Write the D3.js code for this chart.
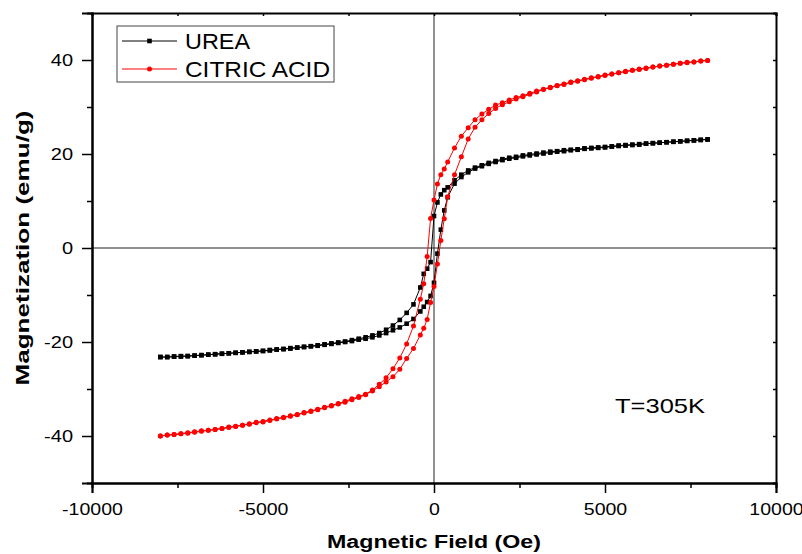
<!DOCTYPE html>
<html>
<head>
<meta charset="utf-8">
<script src="https://cdn.jsdelivr.net/npm/d3@7"></script>
<style>
  body { margin: 0; background: #fff; }
  svg { display: block; font-family: "Liberation Sans", Arial, sans-serif; }
</style>
</head>
<body>
<div id="chart"></div>
<script>
// applied field (Oe), sweep from +8000 down to -8000; the return sweep uses the same points
const fieldOe = [
  8000, 7800, 7600, 7400, 7200, 7000, 6800, 6600, 6400, 6200, 6000, 5800, 5600, 5400, 5200,
  5000, 4800, 4600, 4400, 4200, 4000, 3800, 3600, 3400, 3200, 3000, 2800, 2600, 2400, 2200,
  2000, 1800, 1600, 1400, 1200, 1000, 800, 600, 400, 300, 200, 100, 0, -100, -200,
  -300, -400, -600, -800, -1000, -1200, -1400, -1600, -1800, -2000,
  -2200, -2400, -2600, -2800, -3000, -3200, -3400, -3600, -3800, -4000, -4200, -4400, -4600, -4800, -5000,
  -5200, -5400, -5600, -5800, -6000, -6200, -6400, -6600, -6800, -7000, -7200, -7400, -7600, -7800, -8000
];

// magnetization (emu/g), aligned with fieldOe. "Down" = descending sweep, "Up" = ascending sweep
const ureaDown = [
  23.1, 23.0, 22.9, 22.8, 22.7, 22.6, 22.5, 22.4, 22.3, 22.2, 22.1, 22.0, 21.9, 21.8, 21.6,
  21.5, 21.4, 21.3, 21.2, 21.0, 20.9, 20.8, 20.6, 20.5, 20.3, 20.1, 19.9, 19.7, 19.4, 19.2,
  18.9, 18.5, 18.1, 17.6, 17.1, 16.5, 15.6, 14.4, 12.9, 12.3, 11.4, 9.7, 6.8, -3.0, -4.4,
  -5.5, -8.4, -12.0, -13.8, -15.3, -16.5, -17.4, -18.1, -18.6, -19.0,
  -19.3, -19.6, -19.9, -20.1, -20.3, -20.5, -20.7, -20.9, -21.0, -21.2, -21.3, -21.5, -21.6, -21.7, -21.9,
  -22.0, -22.1, -22.2, -22.3, -22.4, -22.5, -22.6, -22.7, -22.8, -22.9, -23.0, -23.0, -23.1, -23.2, -23.2
];
const ureaUp = [
  23.1, 23.0, 22.9, 22.8, 22.7, 22.6, 22.5, 22.4, 22.3, 22.2, 22.0, 21.9, 21.8, 21.7, 21.6,
  21.4, 21.3, 21.2, 21.1, 20.9, 20.8, 20.6, 20.5, 20.3, 20.1, 19.9, 19.7, 19.5, 19.2, 19.0,
  18.7, 18.3, 17.9, 17.4, 16.9, 16.1, 15.1, 13.7, 10.8, 8.0, 3.9, -1.2, -7.4, -10.2, -11.5,
  -12.5, -13.5, -15.1, -16.1, -16.9, -17.5, -18.1, -18.6, -19.0, -19.3,
  -19.5, -19.8, -20.0, -20.2, -20.4, -20.6, -20.8, -20.9, -21.1, -21.2, -21.4, -21.5, -21.6, -21.8, -21.9,
  -22.0, -22.1, -22.2, -22.3, -22.4, -22.5, -22.6, -22.7, -22.8, -22.9, -23.0, -23.1, -23.1, -23.2, -23.2
];
const citricDown = [
  39.9, 39.8, 39.6, 39.5, 39.3, 39.1, 38.9, 38.7, 38.5, 38.3, 38.1, 37.8, 37.6, 37.3, 37.0,
  36.8, 36.5, 36.2, 35.9, 35.6, 35.3, 34.9, 34.6, 34.2, 33.8, 33.4, 32.9, 32.4, 32.0, 31.5,
  30.9, 30.4, 29.5, 28.5, 27.3, 25.6, 23.8, 21.3, 18.3, 16.8, 15.6, 13.6, 10.2, 6.3, -1.8,
  -7.6, -10.9, -16.6, -20.4, -23.4, -25.7, -27.6, -29.0, -30.2, -31.1,
  -31.6, -32.1, -32.6, -33.1, -33.5, -33.9, -34.3, -34.7, -35.0, -35.4, -35.7, -36.0, -36.3, -36.6, -36.9,
  -37.1, -37.4, -37.7, -37.9, -38.1, -38.4, -38.6, -38.8, -38.9, -39.1, -39.3, -39.5, -39.7, -39.8, -40.0
];
const citricUp = [
  39.9, 39.8, 39.6, 39.4, 39.3, 39.1, 38.9, 38.7, 38.5, 38.2, 38.0, 37.8, 37.5, 37.3, 37.0,
  36.7, 36.4, 36.1, 35.8, 35.5, 35.2, 34.8, 34.5, 34.1, 33.7, 33.2, 32.7, 32.2, 31.7, 31.1,
  30.5, 29.7, 28.6, 27.3, 25.7, 23.2, 19.4, 15.6, 10.9, 6.2, 1.6, -3.4, -8.2, -11.6, -15.2,
  -17.1, -18.5, -21.4, -23.5, -25.8, -27.4, -28.5, -29.5, -30.4, -31.2,
  -31.8, -32.3, -32.8, -33.2, -33.6, -34.0, -34.4, -34.8, -35.1, -35.5, -35.8, -36.1, -36.4, -36.7, -37.0,
  -37.2, -37.5, -37.7, -38.0, -38.2, -38.4, -38.6, -38.8, -39.0, -39.2, -39.4, -39.5, -39.7, -39.8, -40.0
];

const xMajor = [-10000, -5000, 0, 5000, 10000];
const xMinor = [-7500, -2500, 2500, 7500];
const yMajor = [-40, -20, 0, 20, 40];
const yMinor = [-30, -10, 10, 30];

const width = 802, height = 554;
const plotLeft = 92, plotRight = 776, plotTop = 13, plotBottom = 483;

const svg = d3.select('#chart').append('svg')
  .attr('width', width)
  .attr('height', height);

const x = d3.scaleLinear().domain([-10000, 10000]).range([plotLeft, plotRight]);
const y = d3.scaleLinear().domain([-50, 50]).range([plotBottom, plotTop]);

// plain hyphen for negatives, like the original
const plainNum = d => String(d);

// stretch tick labels a bit, the original text is wide
function styleTicks(g, stretch) {
  g.selectAll('text')
    .attr('font-size', 16)
    .attr('fill', '#000')
    .attr('font-family', '"Liberation Sans", Arial, sans-serif')
    .each(function () {
      const w = this.getComputedTextLength();
      d3.select(this).attr('textLength', w * stretch).attr('lengthAdjust', 'spacingAndGlyphs');
    });
}

// zero lines
svg.append('line')
  .attr('x1', x(0)).attr('x2', x(0)).attr('y1', plotTop).attr('y2', plotBottom)
  .attr('stroke', '#222').attr('stroke-width', 1);
svg.append('line')
  .attr('x1', plotLeft).attr('x2', plotRight).attr('y1', y(0)).attr('y2', y(0))
  .attr('stroke', '#222').attr('stroke-width', 1);

// axes
const gx = svg.append('g').attr('transform', `translate(0,${plotBottom})`)
  .call(d3.axisBottom(x).tickValues(xMajor).tickSize(10).tickPadding(11).tickFormat(plainNum));
svg.append('g').attr('transform', `translate(0,${plotBottom})`)
  .call(d3.axisBottom(x).tickValues(xMinor).tickSize(5).tickFormat(''));
const gy = svg.append('g').attr('transform', `translate(${plotLeft},0)`)
  .call(d3.axisLeft(y).tickValues(yMajor).tickSize(10).tickPadding(9).tickFormat(plainNum));
svg.append('g').attr('transform', `translate(${plotLeft},0)`)
  .call(d3.axisLeft(y).tickValues(yMinor).tickSize(5).tickFormat(''));
svg.append('g').attr('transform', `translate(0,${plotTop})`)
  .call(d3.axisTop(x).tickValues(xMajor.concat(xMinor)).tickSize(-3).tickFormat(''));
svg.append('g').attr('transform', `translate(${plotRight},0)`)
  .call(d3.axisRight(y).tickValues(yMajor.concat(yMinor)).tickSize(-3).tickFormat(''));

svg.selectAll('.domain').attr('stroke', '#000').attr('stroke-width', 2);
svg.selectAll('.tick line').attr('stroke', '#000').attr('stroke-width', 1.5);
styleTicks(gx, 1.22);
styleTicks(gy, 1.25);

// hysteresis loops: down sweep then back up
function loopPoints(down, up) {
  const pts = fieldOe.map((h, i) => [h, down[i]]);
  for (let i = fieldOe.length - 1; i >= 0; i--) pts.push([fieldOe[i], up[i]]);
  return pts;
}

const line = d3.line().x(d => x(d[0])).y(d => y(d[1]));

const series = [
  { name: 'UREA', color: '#000', shape: 'square', pts: loopPoints(ureaDown, ureaUp) },
  { name: 'CITRIC ACID', color: '#ff0000', shape: 'circle', pts: loopPoints(citricDown, citricUp) }
];

function drawMarker(g, shape, color, cx, cy) {
  if (shape === 'square') {
    g.append('rect').attr('x', cx - 2.3).attr('y', cy - 2.3)
      .attr('width', 4.6).attr('height', 4.6).attr('fill', color);
  } else {
    g.append('circle').attr('cx', cx).attr('cy', cy).attr('r', 2.5).attr('fill', color);
  }
}

series.forEach(s => {
  const g = svg.append('g');
  g.append('path')
    .attr('d', line(s.pts))
    .attr('fill', 'none')
    .attr('stroke', s.color)
    .attr('stroke-width', 1);
  s.pts.forEach(p => drawMarker(g, s.shape, s.color, x(p[0]), y(p[1])));
});

// legend
const lg = svg.append('g');
lg.append('rect')
  .attr('x', 117).attr('y', 26).attr('width', 217).attr('height', 56)
  .attr('fill', '#fff').attr('stroke', '#444').attr('stroke-width', 1);
series.forEach((s, i) => {
  const ly = 41 + i * 28;
  lg.append('line').attr('x1', 122).attr('x2', 177).attr('y1', ly).attr('y2', ly)
    .attr('stroke', s.color).attr('stroke-width', 1);
  drawMarker(lg, s.shape, s.color, 149.5, ly);
  lg.append('text')
    .attr('x', 185).attr('y', ly + 8)
    .attr('font-size', 22)
    .attr('textLength', i === 0 ? 65 : 145)
    .attr('lengthAdjust', 'spacingAndGlyphs')
    .text(s.name);
});

// annotation
svg.append('text')
  .attr('x', 615).attr('y', 413)
  .attr('font-size', 21)
  .attr('textLength', 90)
  .attr('lengthAdjust', 'spacingAndGlyphs')
  .text('T=305K');

// axis titles
svg.append('text')
  .attr('x', (plotLeft + plotRight) / 2).attr('y', 548)
  .attr('text-anchor', 'middle')
  .attr('font-size', 18).attr('font-weight', 'bold')
  .attr('textLength', 214).attr('lengthAdjust', 'spacingAndGlyphs')
  .text('Magnetic Field (Oe)');

svg.append('text')
  .attr('transform', `translate(29,${(plotTop + plotBottom) / 2}) rotate(-90)`)
  .attr('text-anchor', 'middle')
  .attr('font-size', 19).attr('font-weight', 'bold')
  .attr('textLength', 275).attr('lengthAdjust', 'spacingAndGlyphs')
  .text('Magnetization (emu/g)');
</script>
</body>
</html>
